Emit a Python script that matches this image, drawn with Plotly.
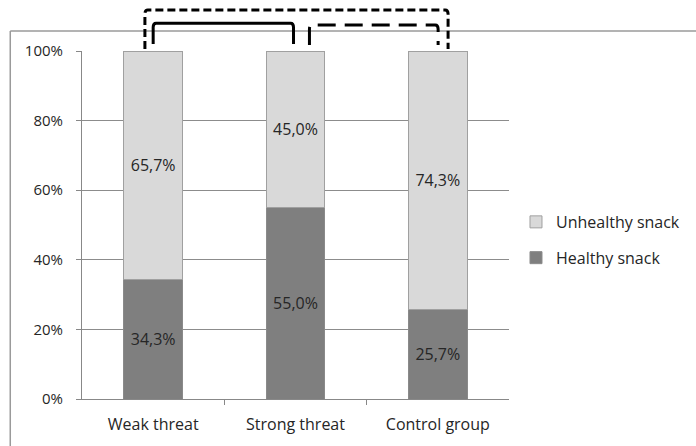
import plotly.graph_objects as go

categories = ["Weak threat", "Strong threat", "Control group"]
healthy = [34.3, 55.0, 25.7]
unhealthy = [65.7, 45.0, 74.3]
y_ticks = [0, 20, 40, 60, 80, 100]
y_ticktext = [f"{v}%" for v in y_ticks]

FONT = "'Open Sans', sans-serif"
TXT = "#262626"
xpos = list(range(len(categories)))

fig = go.Figure()
fig.add_trace(go.Bar(
    x=xpos, y=healthy, name="Healthy snack", legendgroup="h", legendrank=2,
    marker=dict(color="#7f7f7f", line=dict(color="#8a8a8a", width=1)),
    width=0.41, texttemplate="%{y:.1f}%", textposition="inside",
    insidetextanchor="middle", textangle=0, constraintext="none",
    textfont=dict(family=FONT, size=16, color=TXT), hoverinfo="skip",
))
fig.add_trace(go.Bar(
    x=xpos, y=unhealthy, name="Unhealthy snack", legendgroup="u", legendrank=1,
    marker=dict(color="#d9d9d9", line=dict(color="#a0a0a0", width=1)),
    width=0.41, texttemplate="%{y:.1f}%", textposition="inside",
    insidetextanchor="middle", textangle=0, constraintext="none",
    textfont=dict(family=FONT, size=16, color=TXT), hoverinfo="skip",
))

# invisible trace to carry boundary tick marks on a second x axis
fig.add_trace(go.Scatter(x=[-0.5, 2.5], y=[0, 0], xaxis="x2", mode="none",
                         showlegend=False, hoverinfo="skip"))

fig.update_layout(
    width=696, height=446,
    margin=dict(l=82, r=186, t=51, b=47),
    paper_bgcolor="white", plot_bgcolor="white",
    barmode="stack", separators=", ",
    font=dict(family=FONT, size=15, color=TXT),
    xaxis=dict(range=[-0.5, 2.5], tickvals=xpos, ticktext=categories,
               showgrid=False, zeroline=False, ticks="", showline=True,
               linecolor="#888888", linewidth=1, ticklabelstandoff=11,
               tickfont=dict(size=16, color=TXT, family=FONT), fixedrange=True),
    xaxis2=dict(range=[-0.5, 2.5], overlaying="x", side="bottom", tickvals=[0.5, 1.5],
                ticks="outside", ticklen=5, tickcolor="#888888", showticklabels=False,
                showgrid=False, zeroline=False, showline=False, anchor="y"),
    yaxis=dict(range=[0, 100], tickvals=y_ticks, ticktext=y_ticktext,
               showgrid=True, gridcolor="#8c8c8c", gridwidth=1, zeroline=False,
               showline=True, linecolor="#888888", linewidth=1,
               ticks="outside", ticklen=5, tickcolor="#888888", ticklabelstandoff=10,
               tickfont=dict(size=15, color=TXT, family=FONT), fixedrange=True),
    legend=dict(x=1.014, y=0.457, xanchor="left", yanchor="middle",
                traceorder="grouped", tracegroupgap=12,
                font=dict(size=16, color=TXT, family=FONT),
                itemwidth=30, bgcolor="rgba(0,0,0,0)"),
    showlegend=True,
)

# outer frame (chart-area border, open at right and bottom)
frame = dict(color="#9a9a9a", width=1.5)
fig.add_shape(type="line", xref="paper", yref="paper", x0=-0.168, x1=1.6,
              y0=1.0575, y1=1.0575, line=frame)
fig.add_shape(type="line", xref="paper", yref="paper", x0=-0.168, x1=-0.168,
              y0=1.0575, y1=-0.3, line=frame)

def bracket(xa, xb, ylo, yhi, dash, r=0.02, ry=0.012):
    path = (f"M {xa},{ylo} L {xa},{yhi - ry} Q {xa},{yhi} {xa + r},{yhi} "
            f"L {xb - r},{yhi} Q {xb},{yhi} {xb},{yhi - ry} L {xb},{ylo}")
    fig.add_shape(type="path", xref="x", yref="paper", path=path,
                  line=dict(color="black", width=3, dash=dash))

bracket(-0.058, 2.072, 1.006, 1.118, "8px,4px")
bracket(0.0, 0.986, 1.020, 1.080, "solid")
bracket(1.098, 2.002, 1.017, 1.075, "18px,9px")

fig.write_html("out.html")
